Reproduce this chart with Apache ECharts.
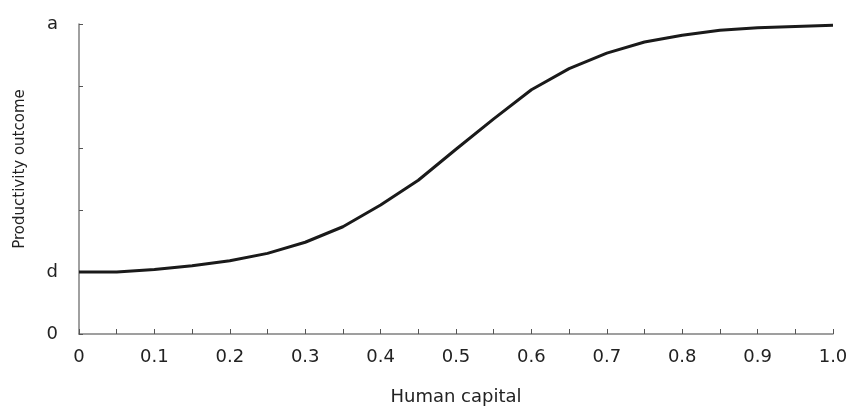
<!DOCTYPE html>
<html><head><meta charset="utf-8">
<script src="https://cdn.jsdelivr.net/npm/echarts@6/dist/echarts.min.js"></script>
<style>html,body{margin:0;padding:0;background:#fff}#c{width:851px;height:406px}</style>
</head><body><div id="c"></div>
<script>
var xValues = [0, 0.05, 0.1, 0.15, 0.2, 0.25, 0.3, 0.35, 0.4, 0.45, 0.5, 0.55, 0.6, 0.65, 0.7, 0.75, 0.8, 0.85, 0.9, 0.95, 1.0];
var yValues = [1.0, 1.0, 1.04, 1.1, 1.18, 1.3, 1.48, 1.73, 2.08, 2.48, 2.98, 3.47, 3.94, 4.28, 4.53, 4.71, 4.82, 4.9, 4.94, 4.96, 4.98];
var yTickLabels = {0: '0', 1: 'd', 5: 'a'};
var xAxisName = 'Human capital';
var yAxisName = 'Productivity outcome';

var FONT = 'DejaVu Sans';
var chart = echarts.init(document.getElementById('c'));
chart.setOption({
  animation: false,
  backgroundColor: '#fff',
  grid: {left: 79, right: 18, top: 24, bottom: 72, containLabel: false, outerBoundsMode: 'none'},
  xAxis: {
    type: 'value', min: 0, max: 1, interval: 0.05,
    name: xAxisName, nameLocation: 'middle', nameGap: 54,
    nameTextStyle: {fontFamily: FONT, fontSize: 18, color: '#222'},
    axisLine: {lineStyle: {color: '#808080', width: 1.5}},
    axisTick: {inside: true, length: 5, lineStyle: {color: '#555'}},
    splitLine: {show: false},
    axisLabel: {
      margin: 14, fontFamily: FONT, fontSize: 18, color: '#222',
      formatter: function (v) {
        var k = Math.round(v * 20);
        if (k % 2 !== 0) return '';
        if (k === 0) return '0';
        return (k / 20).toFixed(1);
      }
    }
  },
  yAxis: {
    type: 'value', min: 0, max: 5, interval: 1,
    name: yAxisName, nameLocation: 'middle', nameGap: 51,
    nameTextStyle: {fontFamily: FONT, fontSize: 15, color: '#222', padding: [0, 0, 0, 20]},
    axisLine: {show: true, lineStyle: {color: '#808080', width: 1.5}},
    axisTick: {show: true, inside: true, length: 4, lineStyle: {color: '#555'}},
    splitLine: {show: false},
    axisLabel: {
      margin: 21, fontFamily: FONT, fontSize: 18, color: '#222',
      formatter: function (v) { var k = Math.round(v); return yTickLabels[k] || ''; }
    }
  },
  series: [{
    type: 'line',
    data: xValues.map(function (x, i) { return [x, yValues[i]]; }),
    showSymbol: false, symbol: 'none',
    lineStyle: {color: '#1a1a1a', width: 3},
    smooth: false
  }]
});
</script></body></html>
